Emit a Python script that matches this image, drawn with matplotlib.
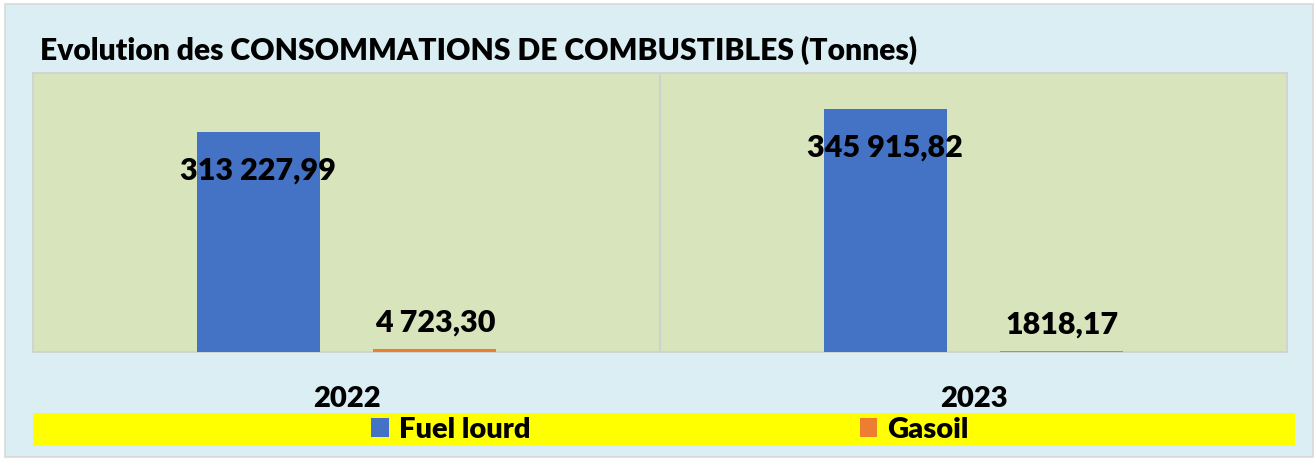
import matplotlib
matplotlib.use("Agg")
import matplotlib.pyplot as plt
from matplotlib.patches import Rectangle, Patch
import numpy as np

# ---- data ----
years = ["2022", "2023"]
series_names = ["Fuel lourd", "Gasoil"]
fuel_lourd = [313227.99, 345915.82]
gasoil = [4723.30, 1818.17]
value_labels_fuel = ["313 227,99", "345 915,82"]
value_labels_gasoil = ["4 723,30", "1818,17"]
title = "Evolution des CONSOMMATIONS DE COMBUSTIBLES (Tonnes)"

# ---- style ----
W, H = 1315, 459
DPI = 100
FONT = "Lato"
WEIGHT = "heavy"
BG_OUT = "#DAEEF3"
BG_PLOT = "#D8E4BC"
BLUE = "#4472C4"
ORANGE = "#ED7D31"
GRID = "#D0D0D0"

plt.rcParams["font.family"] = [FONT, "DejaVu Sans"]

fig = plt.figure(figsize=(W / DPI, H / DPI), dpi=DPI)
fig.patch.set_facecolor("white")

def fx(px):
    return px / W

def fy(py):
    return 1 - py / H

# outer chart area with light grey border
fig.patches.append(Rectangle((fx(5), fy(457)), fx(1313) - fx(5), fy(4) - fy(457),
                             transform=fig.transFigure, facecolor=BG_OUT,
                             edgecolor="#D9D9D9", linewidth=1.2, zorder=-10))

# plot area
left, right, top, bottom = 33, 1287, 73, 352
ax = fig.add_axes([fx(left), fy(bottom), fx(right) - fx(left), fy(top) - fy(bottom)])
ax.set_zorder(2)
ax.set_facecolor(BG_PLOT)
for s in ax.spines.values():
    s.set_color("#D0D0D0")
    s.set_linewidth(1.2)

x = np.arange(len(years))
bw = 0.196
off = 0.141
ax.bar(x - off, fuel_lourd, bw, color=BLUE, zorder=3)
ax.bar(x + off, gasoil, bw, color=ORANGE, zorder=3)

ax.set_xlim(-0.5, len(years) - 0.5)
ax.set_ylim(0, 397000)
ax.set_yticks([])
# category separators
for b in np.arange(0.5, len(years) - 0.5, 1.0):
    ax.axvline(b, color=GRID, linewidth=1.5, zorder=1)

ax.set_xticks(x, labels=years)
ax.tick_params(axis="x", length=0, pad=39.5)
for lab in ax.get_xticklabels():
    lab.set_fontsize(21)
    lab.set_fontweight(WEIGHT)
    lab.set_va("baseline")

lab_fs = 22
for xi, v, t in zip(x, fuel_lourd, value_labels_fuel):
    ax.annotate(t, (xi - off, v), xytext=(0, -47.5), textcoords="offset pixels",
                ha="center", va="baseline", fontsize=lab_fs, fontweight=WEIGHT,
                color="black", zorder=5)
for xi, v, t in zip(x, gasoil, value_labels_gasoil):
    ax.annotate(t, (xi + off, v), xytext=(0, 17.5), textcoords="offset pixels",
                ha="center", va="baseline", fontsize=lab_fs, fontweight=WEIGHT,
                color="black", zorder=5)

# title
fig.text(fx(40), fy(60), title, ha="left", va="baseline", fontsize=21.6,
         fontweight=WEIGHT, color="black")

# legend band
fig.patches.append(Rectangle((fx(33), fy(446)), fx(1295) - fx(33), fy(413) - fy(446),
                             transform=fig.transFigure, facecolor="#FFFF00",
                             edgecolor="none", zorder=1))
handles = [Patch(facecolor=BLUE, edgecolor="none"), Patch(facecolor=ORANGE, edgecolor="none")]
leg = fig.legend(handles, series_names, loc="center", bbox_to_anchor=(fx(670), fy(430)),
                 ncol=2, frameon=False, prop={"family": FONT, "weight": WEIGHT, "size": 21},
                 handlelength=0.6, handleheight=0.6, handletextpad=0.35,
                 columnspacing=11.3, borderpad=0, borderaxespad=0)
leg.set_zorder(5)

fig.savefig("out.png", dpi=DPI, facecolor=fig.get_facecolor())
